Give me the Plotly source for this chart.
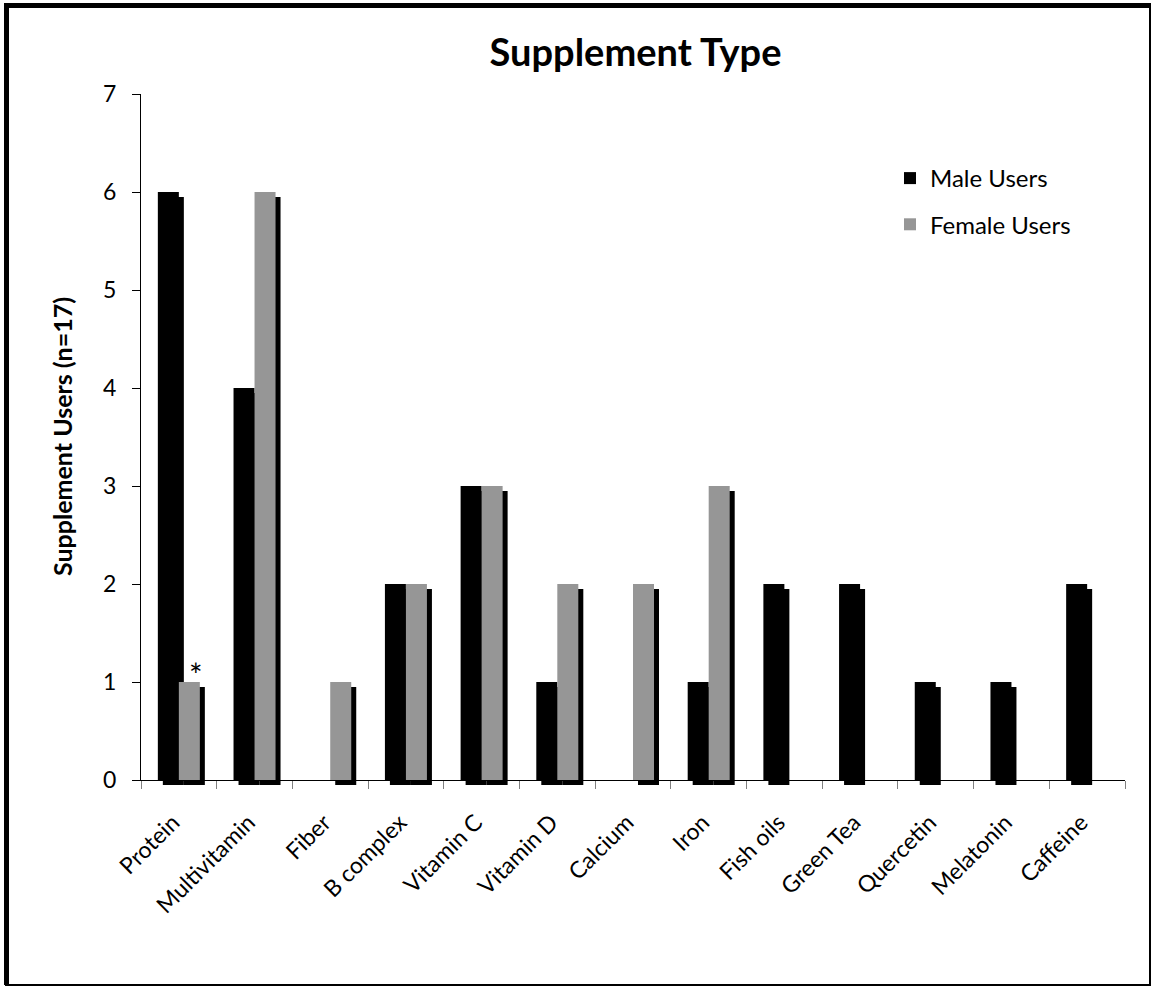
import plotly.graph_objects as go

categories = ["Protein", "Multivitamin", "Fiber", "B complex", "Vitamin C", "Vitamin D",
              "Calcium", "Iron", "Fish oils", "Green Tea", "Quercetin", "Melatonin", "Caffeine"]
male_users = [6, 4, 0, 2, 3, 1, 0, 1, 2, 2, 1, 1, 2]
female_users = [1, 6, 1, 2, 3, 2, 2, 3, 0, 0, 0, 0, 0]
y_ticks = [0, 1, 2, 3, 4, 5, 6, 7]

W, H = 1152, 990
L, R = 141, 1125 + 5   # plot area incl. shadow shift
T, B = 94, 780 + 5
SH = 5
pw = R - L
ph = B - T

FONT = "Lato, 'Open Sans', sans-serif"
GRAY = "#969696"

fig = go.Figure()

# shadow traces (offset subplot)
for vals in (male_users, female_users):
    fig.add_trace(go.Bar(x=categories, y=vals, marker=dict(color="black", line=dict(width=0)),
                         xaxis="x", yaxis="y", showlegend=False, hoverinfo="skip"))

# main traces
fig.add_trace(go.Bar(x=categories, y=male_users, name="Male Users",
                     marker=dict(color="black", line=dict(width=0)),
                     xaxis="x2", yaxis="y2", legendgroup="m"))
fig.add_trace(go.Bar(x=categories, y=female_users, name="Female Users",
                     marker=dict(color=GRAY, line=dict(width=0)),
                     xaxis="x2", yaxis="y2", legendgroup="f"))

def px_x(p):
    return (p - L) / pw

def px_y(p):
    return (B - p) / ph

fig.update_layout(
    width=W, height=H,
    margin=dict(l=L, r=W - R, t=T, b=H - B, pad=0),
    paper_bgcolor="white", plot_bgcolor="rgba(0,0,0,0)",
    barmode="group", bargap=0.445, bargroupgap=0,
    font=dict(family=FONT, color="black", size=20),
    title=dict(text="<b>Supplement Type</b>", x=0.5, xref="paper", y=1 - 53 / H,
               yanchor="middle", xanchor="center", font=dict(size=38, family=FONT, color="black")),
    xaxis=dict(domain=[SH / pw, 1], anchor="y", visible=False,
               categoryorder="array", categoryarray=categories),
    yaxis=dict(domain=[0, 1 - SH / ph], anchor="x", visible=False, range=[0, 7]),
    xaxis2=dict(domain=[0, 1 - SH / pw], anchor="y2", categoryorder="array",
                categoryarray=categories, showline=True, linecolor="black", linewidth=1,
                ticks="outside", ticklen=8, tickcolor="#808080", tickson="boundaries",
                tickangle=-45, showgrid=False, zeroline=False, ticklabelstandoff=19,
                ticklabelshift=-6, tickfont=dict(size=23, color="black")),
    yaxis2=dict(domain=[SH / ph, 1], anchor="x2", range=[0, 7], tickvals=y_ticks,
                showline=True, linecolor="black", linewidth=1, ticks="outside",
                ticklen=8, tickcolor="black", showgrid=False, zeroline=False,
                ticklabelstandoff=11, tickfont=dict(size=23, color="black")),
    legend=dict(x=px_x(890), y=px_y(156), xanchor="left", yanchor="top",
                font=dict(size=24, color="black"), bgcolor="rgba(0,0,0,0)", tracegroupgap=12,
                itemwidth=30),
    showlegend=True,
)

# y-axis title
fig.add_annotation(x=px_x(45), y=px_y(437), xref="paper", yref="paper",
                   text="<b>Supplement Users (n=17)</b>", textangle=-90, showarrow=False,
                   font=dict(size=25, family=FONT, color="black"))

# asterisk label above Protein female bar
fig.add_annotation(x=px_x(187), y=px_y(696), xref="paper", yref="paper", text="*",
                   showarrow=False, font=dict(size=32, family=FONT, color="black"))

# outer border
fig.add_shape(type="rect", xref="paper", yref="paper",
              x0=px_x(6), x1=px_x(1150), y0=px_y(985), y1=px_y(5),
              line=dict(color="black", width=2), layer="above")
fig.add_shape(type="line", xref="paper", yref="paper",
              x0=px_x(6.5), x1=px_x(6.5), y0=px_y(985), y1=px_y(4),
              line=dict(color="black", width=5), layer="above")
fig.add_shape(type="line", xref="paper", yref="paper",
              x0=px_x(4), x1=px_x(1151), y0=px_y(5.5), y1=px_y(5.5),
              line=dict(color="black", width=5), layer="above")

fig.write_html("out.html", config={"displayModeBar": False},
               post_script="document.body.style.margin='0';document.body.style.overflow='hidden';")
